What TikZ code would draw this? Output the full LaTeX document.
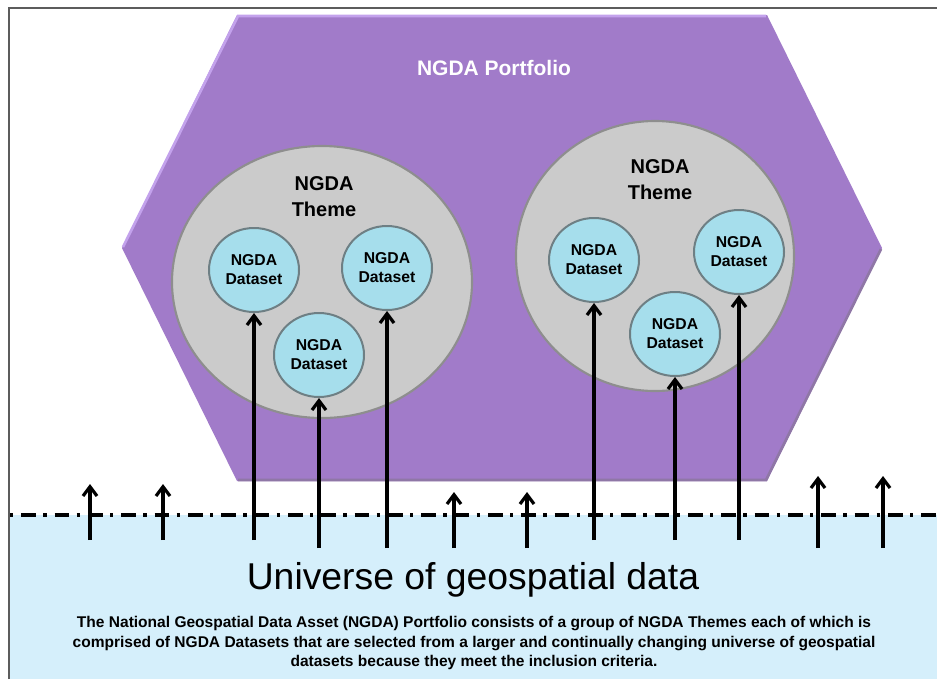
\documentclass[tikz,border=0pt]{standalone}
\usepackage{fontspec}
\setmainfont{Liberation Sans}
\usetikzlibrary{shapes.geometric,arrows.meta,positioning}
\definecolor{portfolio}{HTML}{A17BC9}
\definecolor{hexlight}{HTML}{C3A2EC}
\definecolor{hexdark}{HTML}{8F77A6}
\definecolor{themefill}{HTML}{CBCBCB}
\definecolor{themerim}{HTML}{8E8E8E}
\definecolor{dsfill}{HTML}{A6DEEC}
\definecolor{dsrim}{HTML}{6E7F84}
\definecolor{universe}{HTML}{D5EFFB}
\definecolor{frame}{HTML}{5C5C5C}
\begin{document}
\begin{tikzpicture}[x=0.75pt,y=-0.75pt,
    theme/.style={ellipse,draw=themerim,line width=1.6pt,fill=themefill,inner sep=0pt},
    themetxt/.style={align=center,font=\fontsize{15}{19.5}\selectfont\bfseries},
    dataset/.style={ellipse,draw=dsrim,line width=1.5pt,fill=dsfill,inner sep=0pt,
      minimum width=67.5pt,minimum height=63pt,align=center,
      font=\fontsize{11.8}{14.25}\selectfont\bfseries},
    arr/.style={line width=2.4pt,-{Straight Barb[length=7pt,width=10.5pt]}}]
\useasboundingbox (0,0) rectangle (937,679);

% Drawing universe area
\fill[universe] (10,515) rectangle (937,679);%

% Drawing frame
\draw[frame,line width=2.2pt] (9,679) -- (9,8) -- (937,8);%

% Drawing boundary of universe
\coordinate (dashL) at (10,515);
\coordinate (dashR) at (937,515);
\draw[line width=2.4pt,dash pattern=on 2.5pt off 6pt on 11pt off 5.5pt] (dashL) -- (dashR);%

% Drawing portfolio hexagon
\fill[portfolio] (237,15) -- (767,15) -- (882,248) -- (767,481) -- (237,481) -- (122,248) -- cycle;%
\draw[hexlight,line width=2pt] (123,247) -- (238,16) -- (766,16);%
\draw[hexdark,line width=2pt] (881,249) -- (766,480) -- (238,480);%
\node[white,font=\fontsize{15.75}{19}\selectfont\bfseries,anchor=base] (portfolioLbl) at (494,75) {NGDA Portfolio};%

% Drawing theme circles
\node[theme,minimum width=225pt,minimum height=204pt] (themeL) at (322,282) {};%
\node[theme,minimum width=208.5pt,minimum height=202.5pt] (themeR) at (655,256) {};%
\node[themetxt,anchor=base] (themeLtxt) at (324,216) {NGDA\\Theme};%
\node[themetxt,anchor=base] (themeRtxt) at (660,199) {NGDA\\Theme};%

% Marking datasets of left theme
\node[dataset] (dsLa) at (254,270) {NGDA\\Dataset};%
\node[dataset] (dsLb) at (387,268) {NGDA\\Dataset};%
\node[dataset] (dsLc) at (319,355) {NGDA\\Dataset};%

% Marking datasets of right theme
\node[dataset] (dsRa) at (594,260) {NGDA\\Dataset};%
\node[dataset] (dsRb) at (739,252) {NGDA\\Dataset};%
\node[dataset] (dsRc) at (675,334) {NGDA\\Dataset};%

% Drawing selection arrows
\coordinate (srcLa) at (254,540);
\coordinate (srcLb) at (387,548);
\coordinate (srcLc) at (319,548);
\coordinate (srcRa) at (594,540);
\coordinate (srcRb) at (739,540);
\coordinate (srcRc) at (675,540);
\foreach \ds in {La,Lb,Lc,Ra,Rb,Rc}
  \draw[arr] (src\ds) -- (ds\ds.south);%

% Drawing arrows of data not selected
\foreach \xx/\yt/\yb in {90/484/540,163/484/540,454/492/548,527/492/548,818/476/548,883/476/548}{
  \coordinate (free\xx) at (\xx,\yb);
  \coordinate (top\xx) at (\xx,\yt);
  \draw[arr] (free\xx) -- (top\xx);%
}

% Marking universe texts
\node[font=\fontsize{28}{32}\selectfont,anchor=base] (universeTxt) at (473,589) {Universe of geospatial data};%
\node[font=\fontsize{11.65}{14.6}\selectfont\bfseries,align=center] (captionTxt) at (474,643)
  {The National Geospatial Data Asset (NGDA) Portfolio consists of a group of NGDA Themes each of which is\\
   comprised of NGDA Datasets that are selected from a larger and continually changing universe of geospatial\\
   datasets because they meet the inclusion criteria.};%
\end{tikzpicture}
\end{document}
